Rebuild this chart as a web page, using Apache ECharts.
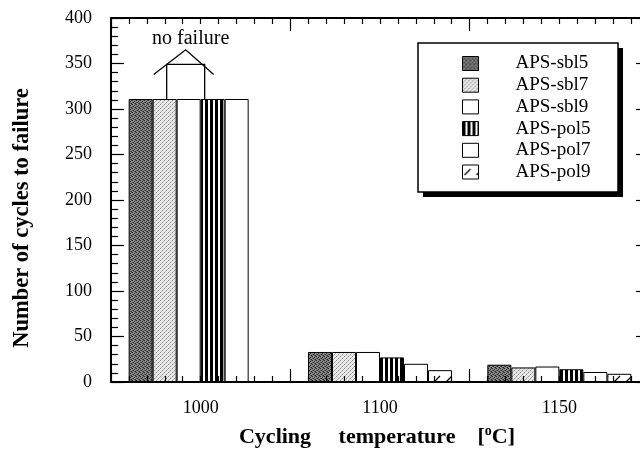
<!DOCTYPE html>
<html><head><meta charset="utf-8">
<script src="https://cdn.jsdelivr.net/npm/echarts@6/dist/echarts.min.js"></script>
<style>html,body{margin:0;padding:0;background:#fff}#c{width:640px;height:449px}</style>
</head><body><div id="c"></div>
<script>
const categories = ['1000', '1100', '1150'];
const seriesNames = ['APS-sbl5', 'APS-sbl7', 'APS-sbl9', 'APS-pol5', 'APS-pol7', 'APS-pol9'];
const sbl5 = [311, 33, 19];
const sbl7 = [311, 33, 16];
const sbl9 = [311, 33, 17];
const pol5 = [311, 27, 14];
const pol7 = [311, 20, 11];
const pol9 = ['-', 13, 9];
const yTicks = [0, 400, 50];
// "no failure" annotation (values in y-units)
const houseBox = [349, 311];      // top, bottom
const houseRoof = [338, 365];     // eaves, apex
const noteText = 'no failure';
const noteY = 377;

const FONT = '"Liberation Serif", "Times New Roman", serif';

function pat(w, h, draw) {
  const c = document.createElement('canvas');
  c.width = w; c.height = h;
  const g = c.getContext('2d');
  draw(g);
  return { image: c, repeat: 'repeat' };
}
const fills = [
  pat(4, 4, g => { g.fillStyle = '#8c8c8c'; g.fillRect(0,0,4,4); g.fillStyle = '#222';
    [[0,0],[2,1],[1,2],[3,3]].forEach(p => g.fillRect(p[0],p[1],1,1)); g.fillStyle='#555';
    [[2,3],[0,2],[3,0]].forEach(p => g.fillRect(p[0],p[1],1,1)); }),
  pat(4, 4, g => { g.fillStyle = '#e8e8e8'; g.fillRect(0,0,4,4); g.fillStyle = '#8a8a8a';
    [[0,0],[2,2]].forEach(p => g.fillRect(p[0],p[1],1,1)); g.fillStyle='#b8b8b8';
    [[1,3],[3,1]].forEach(p => g.fillRect(p[0],p[1],1,1)); }),
  '#ffffff',
  pat(5, 1, g => { g.fillStyle = '#fff'; g.fillRect(0,0,5,1); g.fillStyle = '#000'; g.fillRect(0,0,3,1); }),
  '#ffffff',
  pat(12, 12, g => { g.fillStyle = '#fff'; g.fillRect(0,0,12,12); g.strokeStyle = '#000'; g.lineWidth = 1.2;
    g.beginPath(); g.moveTo(2,10); g.lineTo(8,4); g.stroke(); })
];
const values = [sbl5, sbl7, sbl9, pol5, pol7, pol9];

const chart = echarts.init(document.getElementById('c'), null, { renderer: 'canvas' });

function tickAxis(pos) {
  return {
    type: 'value', min: 0, max: 3, interval: 1, gridIndex: 0, position: pos,
    axisLine: { show: true, onZero: false, lineStyle: { color: '#000', width: 2 } },
    axisTick: { show: true, inside: true, length: 13, lineStyle: { color: '#000', width: 1.2 } },
    minorTick: { show: true, splitNumber: 10, length: 6, lineStyle: { color: '#000', width: 1.2 } },
    axisLabel: { show: false }, splitLine: { show: false }, z: 5
  };
}
function yAxisDef(pos, label) {
  return {
    type: 'value', min: yTicks[0], max: yTicks[1], interval: yTicks[2], position: pos,
    axisLine: { show: true, onZero: false, lineStyle: { color: '#000', width: 2 } },
    axisTick: { show: true, inside: true, length: 13, lineStyle: { color: '#000', width: 1.2 } },
    minorTick: { show: true, splitNumber: 5, length: 7, lineStyle: { color: '#000', width: 1.2 } },
    axisLabel: label, splitLine: { show: false }, z: 5
  };
}

chart.setOption({
  animation: false,
  backgroundColor: '#fff',
  grid: { left: 111, top: 18, width: 538, height: 364, containLabel: false, outerBoundsMode: 'none' },
  xAxis: [
    { type: 'category', data: categories, position: 'bottom',
      axisLine: { show: false, onZero: false }, axisTick: { show: false },
      axisLabel: { color: '#000', fontFamily: FONT, fontSize: 18, margin: 17 } },
    tickAxis('top'),
    tickAxis('bottom')
  ],
  yAxis: [
    yAxisDef('left', { color: '#000', fontFamily: FONT, fontSize: 18, margin: 19 }),
    yAxisDef('right', { show: false })
  ],
  legend: {
    orient: 'vertical', left: 462, top: 54,
    data: seriesNames,
    itemWidth: 16, itemHeight: 14, itemGap: 2.7,
    padding: 0,
    textStyle: { color: '#000', fontFamily: FONT, fontSize: 19, padding: [0, 0, 0, 32] },
    itemStyle: { borderWidth: 1, borderColor: '#000' },
    icon: 'rect',
    selectedMode: false
  },
  series: seriesNames.map((n, i) => ({
    name: n, type: 'bar', xAxisIndex: 0, yAxisIndex: 0,
    data: values[i], barWidth: 24, barGap: '0%', z: 2,
    itemStyle: { color: fills[i], borderColor: '#000', borderWidth: 1 },
    emphasis: { disabled: true }
  }))
});

// annotation
const cx = chart.convertToPixel({ xAxisIndex: 0 }, categories[0]);
const py = v => chart.convertToPixel({ yAxisIndex: 0 }, v);
chart.setOption({
  graphic: [
    { type: 'rect', z: 0, shape: { x: 423, y: 48, width: 200, height: 149 }, style: { fill: '#000' } },
    { type: 'rect', z: 1, shape: { x: 418, y: 43, width: 200, height: 149 }, style: { fill: '#fff', stroke: '#000', lineWidth: 1.5 } },
    { type: 'polyline', z: 10, shape: { points: [[cx - 34, py(houseBox[1])], [cx - 34, py(houseBox[0])], [cx + 4, py(houseBox[0])], [cx + 4, py(houseBox[1])]] },
      style: { stroke: '#000', lineWidth: 1.3, fill: '#fff' } },
    { type: 'polyline', z: 10, shape: { points: [[cx - 47, py(houseRoof[0])], [cx - 15, py(houseRoof[1])], [cx + 13, py(houseRoof[0])]] },
      style: { stroke: '#000', lineWidth: 1.3, fill: null } },
    { type: 'text', z: 10, x: cx - 10, y: py(noteY),
      style: { text: noteText, font: '20px ' + FONT, fill: '#000', align: 'center', verticalAlign: 'middle' } },
    { type: 'text', z: 10, x: 22, y: 218, rotation: Math.PI / 2,
      style: { text: 'Number of cycles to failure', font: 'bold 22.5px ' + FONT, fill: '#000', align: 'center', verticalAlign: 'middle' } },
    { type: 'text', z: 10, x: 377, y: 437,
      style: { text: 'Cycling     temperature    [{s|o}C]', font: 'bold 22px ' + FONT, fill: '#000', align: 'center', verticalAlign: 'middle',
        lineHeight: 26, rich: { s: { fontFamily: FONT, fontWeight: 'bold', fontSize: 14, verticalAlign: 'top', lineHeight: 26 } } } }
  ]
});
</script>
</body></html>
